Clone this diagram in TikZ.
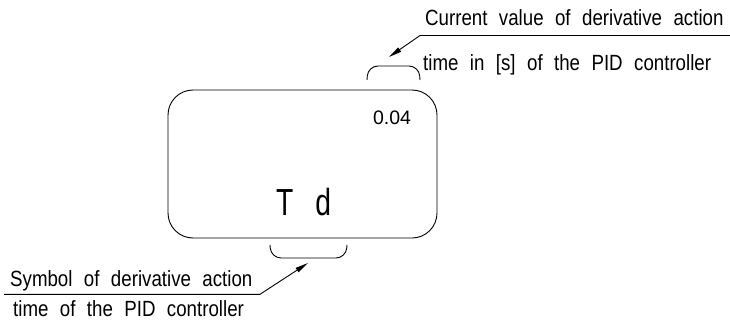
\documentclass[tikz,border=0pt]{standalone}
\usepackage{fontspec}
\setmainfont{Liberation Sans}
\newfontfamily\cadfont[FakeStretch=0.85,WordSpace=2.2]{Liberation Sans}
\newfontfamily\cadnarrow[FakeStretch=0.75]{Liberation Sans}
\usetikzlibrary{arrows.meta}
\tikzset{
  line/.style={line width=0.9pt, black},
  leader/.style={line, -{Triangle[length=13pt,width=5pt]}},
  lbl/.style={anchor=base west, inner sep=0pt, font=\cadfont\fontsize{22}{24}\selectfont},
  panel/.style={line, draw, rounded corners=25pt, minimum width=269pt, minimum height=148pt, inner sep=0pt},
  bracket/.style={line, rounded corners=10pt},
}
\begin{document}
\begin{tikzpicture}[x=1pt,y=-1pt]
\useasboundingbox (0,0) rectangle (730,321);
% display panel
\node[panel] (box) at (302.5,164) {};
\node[anchor=base, inner sep=0pt, font=\fontsize{19.5}{22}\selectfont] (val) at (392,124) {0.04};
\node[anchor=base, inner sep=0pt, font=\cadnarrow\fontsize{37.7}{42}\selectfont] (sym) at (303.5,215) {T\hspace{22pt}d};
% brackets
\draw[bracket] (367,80) -- (368,66) -- (419,66) -- (420,80);
\draw[bracket] (270,245) -- (271,258) -- (346,258) -- (347,245);
% top label
\node[lbl] (t1) at (425,26) {Current value of derivative action};
\node[lbl] (t2) at (423,70.5) {time in [s] of the PID controller};
\coordinate (tend) at (730,35.5);
\coordinate (tknee) at (420,35.5);
\coordinate (ttip) at (389,57);
\draw[leader] (tend) -- (tknee) -- (ttip);
% bottom label
\node[lbl] (b1) at (10,286.5) {Symbol of derivative action};
\node[lbl] (b2) at (13,316.5) {time of the PID controller};
\coordinate (bstart) at (4,294.3);
\coordinate (bknee) at (260,294.3);
\coordinate (btip) at (308,263);
\draw[leader] (bstart) -- (bknee) -- (btip);
\end{tikzpicture}
\end{document}
